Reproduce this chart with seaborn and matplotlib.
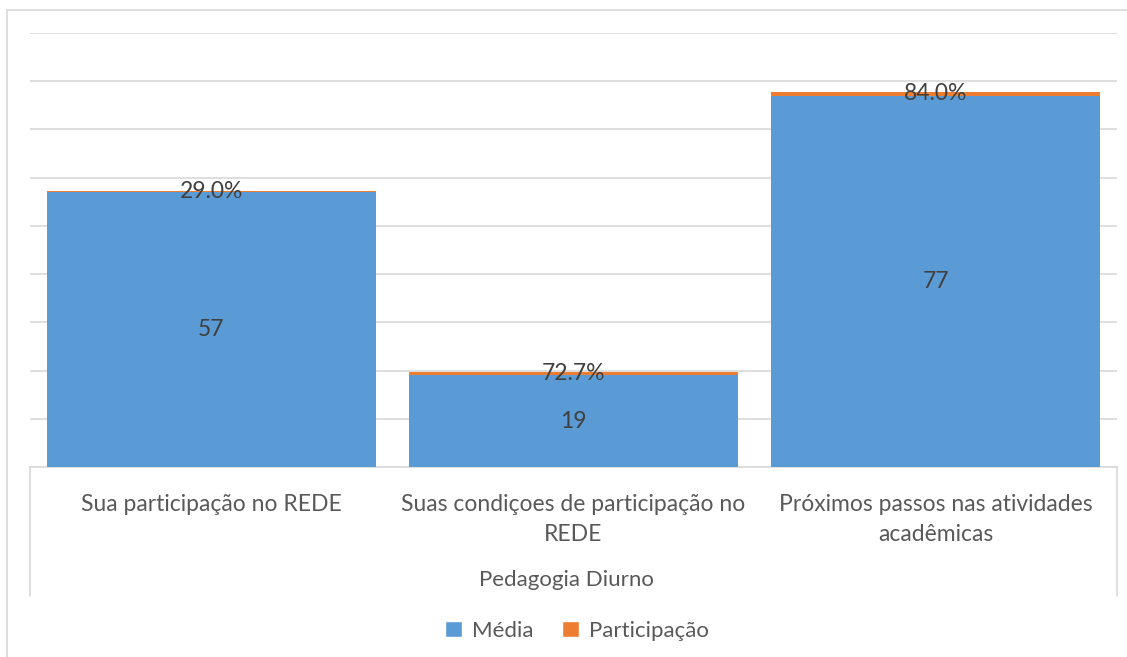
import pandas as pd
import matplotlib.pyplot as plt
import seaborn as sns
from matplotlib.patches import Rectangle, Patch
from matplotlib.lines import Line2D

# Data
categories = [
    'Sua participação no REDE',
    'Suas condiçoes de participação no\nREDE',
    'Próximos passos nas atividades\nacadêmicas',
]
media = [57, 19, 77]
participacao = [0.29, 0.727, 0.84]
group_label = 'Pedagogia Diurno'

df = pd.DataFrame({'Categoria': categories, 'Média': media, 'Participação': participacao})
df['Total'] = df['Média'] + df['Participação']

blue = '#5b9bd5'
orange = '#ed7d31'
grid_c = '#d9d9d9'
text_c = '#595959'
label_c = '#404040'

sns.set_style('white')
plt.rcParams['font.family'] = ['Lato', 'DejaVu Sans']

fig = plt.figure(figsize=(11.27, 6.57), dpi=100)
ax = fig.add_axes([30 / 1127, 1 - 467 / 657, 1087 / 1127, 434 / 657])

# stacked: total in orange behind, média in blue in front
sns.barplot(data=df, x='Categoria', y='Total', color=orange, width=0.908,
            saturation=1, ax=ax, zorder=2, linewidth=0)
sns.barplot(data=df, x='Categoria', y='Média', color=blue, width=0.908,
            saturation=1, ax=ax, zorder=3, linewidth=0)

ax.set_ylim(0, 90)
ax.set_xlim(-0.5, 2.5)
ax.set_yticks(range(0, 91, 10))
ax.yaxis.grid(True, color=grid_c, lw=1.2)
ax.set_axisbelow(True)
ax.tick_params(axis='y', left=False, labelleft=False)
ax.tick_params(axis='x', bottom=False, pad=16, labelsize=16.5, labelcolor=text_c)
for lbl in ax.get_xticklabels():
    lbl.set_linespacing(1.5)
for s in ['top', 'right', 'left']:
    ax.spines[s].set_visible(False)
ax.spines['bottom'].set_color(grid_c)
ax.spines['bottom'].set_linewidth(1.2)
ax.set_xlabel('')
ax.set_ylabel('')

# data labels
for i, (m, p) in enumerate(zip(media, participacao)):
    ax.text(i, m / 2, f'{m}', ha='center', va='center', fontsize=16.5, color=label_c, zorder=5)
    ax.text(i, m + p / 2, f'{p * 100:.1f}%', ha='center', va='center', fontsize=16.5,
            color=label_c, zorder=5)

# multi-level category box lines
tr = ax.get_xaxis_transform()
for xv in [-0.5, 2.5]:
    ax.add_line(Line2D([xv, xv], [0, -129 / 434], transform=tr, color=grid_c,
                       lw=1.2, clip_on=False))

fig.text(566 / 1127, 1 - 580 / 657, group_label, ha='center', va='center',
         fontsize=16, color=text_c)

handles = [Patch(facecolor=blue, label='Média'), Patch(facecolor=orange, label='Participação')]
fig.legend(handles=handles, loc='center', bbox_to_anchor=(577 / 1127, 1 - 631 / 657),
           ncol=2, frameon=False, fontsize=16, labelcolor=text_c,
           handlelength=0.75, handleheight=0.75, handletextpad=0.45, columnspacing=1.3)

# chart outer border
fig.add_artist(Rectangle((7 / 1127, -0.01), 1.02, 1 - 10 / 657 + 0.01,
                         transform=fig.transFigure, fill=False, edgecolor=grid_c,
                         lw=1.2, clip_on=False))

fig.savefig('out.png', dpi=100)
